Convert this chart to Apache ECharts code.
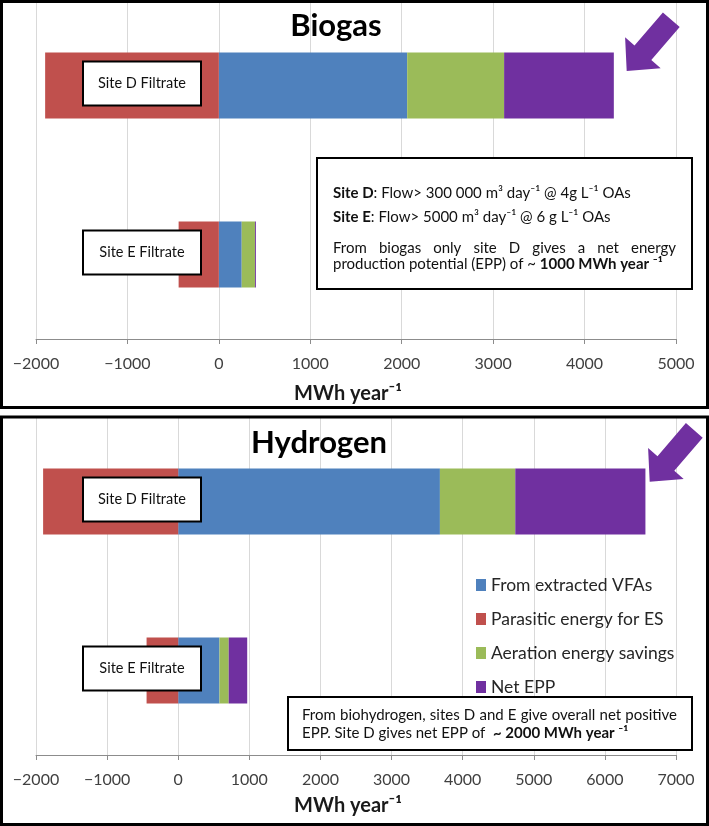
<!DOCTYPE html>
<html><head><meta charset="utf-8">
<script src="https://cdn.jsdelivr.net/npm/echarts@6/dist/echarts.min.js"></script>
<style>html,body{margin:0;padding:0;background:#fff}#c{width:709px;height:826px}</style>
</head><body><div id="c"></div>
<script>
// ---- data ----
const categories = ['Site D Filtrate', 'Site E Filtrate'];
const seriesNames = ['From extracted VFAs', 'Parasitic energy for ES', 'Aeration energy savings', 'Net EPP'];
const biogasVFA = [2060, 250];
const biogasParasitic = [-1900, -440];
const biogasAeration = [1060, 145];
const biogasNet = [1200, 10];
const hydrogenVFA = [3680, 580];
const hydrogenParasitic = [-1900, -445];
const hydrogenAeration = [1060, 130];
const hydrogenNet = [1830, 260];
const biogasAxis = { min: -2000, max: 5000, interval: 1000 };
const hydrogenAxis = { min: -2000, max: 7000, interval: 1000 };
const panelTitles = ['Biogas', 'Hydrogen'];
const axisName = 'MWh year\u207B\u00B9';

// ---- styles ----
const COLORS = ['#4F81BD', '#C0504D', '#9BBB59', '#7030A0'];
const FONT = 'Lato, "Open Sans", sans-serif';

const chart = echarts.init(document.getElementById('c'), null, { renderer: 'canvas' });

function xAxisFor(gi, ax, gap) {
  return {
    type: 'value', gridIndex: gi, min: ax.min, max: ax.max, interval: ax.interval,
    axisLine: { show: true, onZero: false, lineStyle: { color: '#8c8c8c', width: 1 } },
    axisTick: { show: true, length: 5, lineStyle: { color: '#8c8c8c' } },
    splitLine: { show: true, lineStyle: { color: '#d9d9d9', width: 1 } },
    axisLabel: { margin: 17, fontFamily: FONT, fontSize: 16, color: '#404040',
      formatter: v => String(v).replace('-', '\u2212') },
    name: axisName, nameLocation: 'middle', nameGap: gap,
    nameTextStyle: { fontFamily: FONT, fontSize: 20, fontWeight: 'bold', color: '#1a1a1a', padding: [0, 16, 0, 0] }
  };
}
function yAxisFor(gi) {
  return { type: 'category', gridIndex: gi, data: categories, inverse: true,
    axisLine: { show: false }, axisTick: { show: false }, axisLabel: { show: false }, splitLine: { show: false } };
}
function panelSeries(gi, vfa, par, aer, net) {
  return [vfa, par, aer, net].map((d, k) => ({
    type: 'bar', name: seriesNames[k], xAxisIndex: gi, yAxisIndex: gi, stack: 'p' + gi,
    barWidth: 66, data: d, itemStyle: { color: COLORS[k] }, emphasis: { disabled: true }, animation: false
  }));
}

chart.setOption({
  animation: false,
  grid: [
    { left: 36, right: 33, top: 1, height: 338, outerBoundsMode: 'none' },
    { left: 36, right: 33, top: 417, height: 338, outerBoundsMode: 'none' }
  ],
  xAxis: [xAxisFor(0, biogasAxis, 45), xAxisFor(1, hydrogenAxis, 41)],
  yAxis: [yAxisFor(0), yAxisFor(1)],
  legend: {
    data: seriesNames, orient: 'vertical', left: 476, top: 575, itemWidth: 10, itemHeight: 12,
    itemGap: 14, padding: 0, icon: 'rect', selectedMode: false,
    textStyle: { fontFamily: FONT, fontSize: 17.5, lineHeight: 20, color: '#262626' }
  },
  series: [].concat(
    panelSeries(0, biogasVFA, biogasParasitic, biogasAeration, biogasNet),
    panelSeries(1, hydrogenVFA, hydrogenParasitic, hydrogenAeration, hydrogenNet)
  )
});

// ---- annotations ----
const cv = document.createElement('canvas').getContext('2d');
function tw(t, font) { cv.font = font; return cv.measureText(t).width; }
const BOX_FS = 15;
const boxFont = BOX_FS + 'px ' + FONT;
function justified(text, x0, x1, y) {
  const words = text.split(' ');
  const ws = words.map(w => tw(w, boxFont));
  const sum = ws.reduce((a, b) => a + b, 0);
  let gap = (x1 - x0 - sum) / (words.length - 1);
  const sp = tw(' ', boxFont);
  if (gap < sp * 0.8) gap = sp * 0.8;
  let x = x0; const out = [];
  words.forEach((w, i) => {
    out.push({ type: 'text', z: 110, style: { text: w, x: x, y: y, fontFamily: FONT, fontSize: BOX_FS, fill: '#111', verticalAlign: 'middle' } });
    x += ws[i] + gap;
  });
  return out;
}
function richLine(text, x, y) {
  return { type: 'text', z: 110, style: { text: text, x: x, y: y, fontFamily: FONT, fontSize: BOX_FS, fill: '#111', verticalAlign: 'middle',
    rich: { b: { fontFamily: FONT, fontSize: BOX_FS, fontWeight: 'bold', fill: '#111' } } } };
}
function frame(x, y, w, h, lw) {
  return { type: 'rect', z: 120, silent: true, shape: { x: x, y: y, width: w, height: h }, style: { fill: 'none', stroke: '#000', lineWidth: lw } };
}
function box(x, y, w, h) {
  return { type: 'rect', z: 100, shape: { x: x, y: y, width: w, height: h }, style: { fill: '#fff', stroke: '#000', lineWidth: 2 } };
}
function arrow(dx, dy) {
  const p = [[662.9, 12.4], [679.7, 27], [651.3, 60.1], [660.7, 68.3], [626.7, 71], [625.1, 37.3], [634.5, 45.5]];
  return { type: 'polygon', z: 100, shape: { points: p.map(q => [q[0] + dx, q[1] + dy]) }, style: { fill: '#7030A0' } };
}

const g = [];
g.push(frame(1.5, 1.5, 706, 406, 3));
g.push(frame(1.5, 417, 706, 407.5, 3));
g.push({ type: 'text', z: 100, style: { text: panelTitles[0], x: 336, y: 26, textAlign: 'center', verticalAlign: 'middle', fontFamily: FONT, fontSize: 31, fontWeight: 'bold', fill: '#000' } });
g.push({ type: 'text', z: 100, style: { text: panelTitles[1], x: 319, y: 443, textAlign: 'center', verticalAlign: 'middle', fontFamily: FONT, fontSize: 31, fontWeight: 'bold', fill: '#000' } });
g.push(arrow(0, 0));
g.push(arrow(23, 410.7));

[0, 1].forEach(gi => {
  categories.forEach(cat => {
    const cy = chart.convertToPixel({ yAxisIndex: gi }, cat) - 2;
    g.push(box(83, cy - 22, 118, 44));
    g.push({ type: 'text', z: 110, style: { text: cat, x: 142, y: cy, textAlign: 'center', verticalAlign: 'middle', fontFamily: FONT, fontSize: 14.5, fill: '#111' } });
  });
});

// top info box
g.push(box(317, 158, 375, 131));
g.push(richLine('{b|Site D}: Flow> 300 000 m\u00B3 day\u207B\u00B9 @ 4g L\u207B\u00B9 OAs', 333, 193));
g.push(richLine('{b|Site E}: Flow> 5000 m\u00B3 day\u207B\u00B9 @ 6 g L\u207B\u00B9 OAs', 333, 217));
justified('From biogas only site D gives a net energy', 333, 676, 248).forEach(e => g.push(e));
g.push(richLine('production potential (EPP) of ~ {b|1000 MWh year \u207B\u00B9}', 333, 264));

// bottom info box
g.push(box(288, 697, 404, 53));
justified('From biohydrogen, sites D and E give overall net positive', 302, 677, 715).forEach(e => g.push(e));
g.push(richLine('EPP. Site D gives net EPP of  {b|~ 2000 MWh year \u207B\u00B9}', 302, 733));

chart.setOption({ graphic: { elements: g } });
</script></body></html>
